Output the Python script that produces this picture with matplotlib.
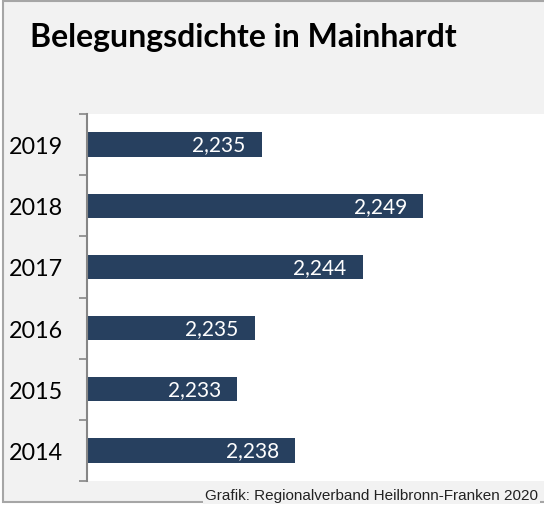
import matplotlib.pyplot as plt
from matplotlib.patches import Rectangle

# Belegungsdichte (Einwohner je Wohnung), Mainhardt
years = ['2014', '2015', '2016', '2017', '2018', '2019']
values = [2.2380, 2.2330, 2.2345, 2.2438, 2.2490, 2.2351]

title = 'Belegungsdichte in Mainhardt'
source = 'Grafik: Regionalverband Heilbronn-Franken 2020'

W, H = 544, 506
fig = plt.figure(figsize=(W / 100, H / 100), dpi=100, facecolor='white')

# grey frame round the chart
fig.patches.append(Rectangle((3 / W, 1 - 503 / H), 1.0, 501 / H,
                             transform=fig.transFigure, facecolor='#f2f2f2',
                             edgecolor='#a6a6a6', linewidth=1.5, zorder=-5))

# plot area; the right side runs past the figure edge as in the original
ax = fig.add_axes([86.5 / W, 1 - 482 / H, 464 / W, 367 / H])
ax.set_facecolor('white')

pos = list(range(len(years)))
ax.barh(pos, values, height=0.4, color='#27405f')
ax.set_xlim(2.22, 2.26)
ax.set_ylim(-0.5, len(years) - 0.5)

for p, v in zip(pos, values):
    ax.annotate(f'{v:.3f}'.replace('.', ','), (v, p), xytext=(-11.5, 0),
                textcoords='offset points', ha='right', va='center',
                color='white', fontsize=15, family='Lato')

# tick marks between categories, labels at the centres
ax.set_yticks([p - 0.5 for p in pos] + [pos[-1] + 0.5])
ax.set_yticklabels([])
ax.tick_params(axis='y', which='major', length=6, width=1.2, color='#868686')
ax.set_yticks(pos, minor=True)
ax.set_yticklabels(years, minor=True, fontsize=16.8, family='Lato')
ax.tick_params(axis='y', which='minor', length=0, pad=17)
ax.set_xticks([])

for s in ['top', 'right', 'bottom']:
    ax.spines[s].set_visible(False)
ax.spines['left'].set_color('#868686')
ax.spines['left'].set_linewidth(1.5)

fig.text(30 / W, 1 - 37 / H, title, fontsize=23, fontweight='bold',
         family='Lato', ha='left', va='center')
fig.text(538 / W, 1 - 496 / H, source, fontsize=11, family='Liberation Sans',
         ha='right', va='center', color='#222222',
         bbox=dict(facecolor='#f2f2f2', edgecolor='none', pad=1.5))

fig.savefig('out.png', dpi=100, facecolor=fig.get_facecolor())
